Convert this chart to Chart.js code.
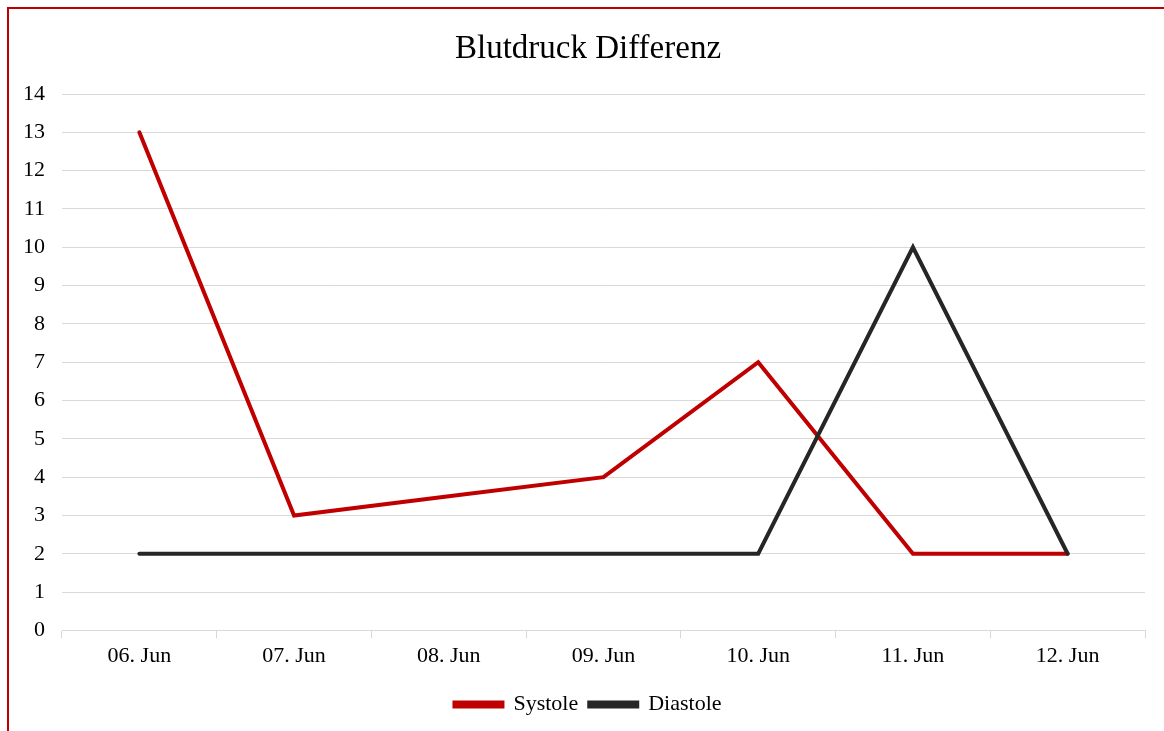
<!DOCTYPE html>
<html>
<head>
<meta charset="utf-8">
<script src="https://cdn.jsdelivr.net/npm/chart.js@4/dist/chart.umd.min.js"></script>
<style>
  html, body { margin: 0; padding: 0; background: #fff; overflow: hidden; }
  #wrap { position: relative; width: 1164px; height: 731px; }
  #frame { position: absolute; left: 7px; top: 7px; width: 2000px; height: 2000px;
           border-left: 2px solid #c00000; border-top: 2px solid #c00000; pointer-events: none; }
</style>
</head>
<body>
<div id="wrap">
  <canvas id="c" width="1164" height="731"></canvas>
  <div id="frame"></div>
</div>
<script>
const categories = ['06. Jun', '07. Jun', '08. Jun', '09. Jun', '10. Jun', '11. Jun', '12. Jun'];
const systole = [13, 3, 3.5, 4, 7, 2, 2];
const diastole = [2, 2, 2, 2, 2, 10, 2];
const seriesNames = ['Systole', 'Diastole'];
const titleText = 'Blutdruck Differenz';
const yMin = 0, yMax = 14, yStep = 1;

const FONT = "'Liberation Serif', 'Times New Roman', serif";
const PAD_LEFT = 12;

new Chart(document.getElementById('c'), {
  type: 'line',
  data: {
    labels: categories,
    datasets: [
      { label: seriesNames[0], data: systole, borderColor: '#c00000', backgroundColor: '#c00000',
        borderWidth: 4, pointRadius: 0, tension: 0, order: 1, borderCapStyle: 'round', borderJoinStyle: 'miter' },
      { label: seriesNames[1], data: diastole, borderColor: '#262626', backgroundColor: '#262626',
        borderWidth: 4, pointRadius: 0, tension: 0, order: 0, borderCapStyle: 'round', borderJoinStyle: 'miter' }
    ]
  },
  options: {
    responsive: false,
    animation: false,
    events: [],
    layout: { padding: { left: PAD_LEFT, right: 0, top: 0, bottom: 5.6 } },
    plugins: {
      title: {
        display: true, text: titleText, color: '#000',
        font: { family: FONT, size: 33, weight: 'normal', lineHeight: 1.2 },
        padding: { top: 30, bottom: 24.4 }
      },
      legend: {
        position: 'bottom',
        labels: {
          color: '#000', font: { family: FONT, size: 22 },
          boxWidth: 48, boxHeight: 4, padding: 11,
          sort: (a, b) => a.datasetIndex - b.datasetIndex
        }
      },
      tooltip: { enabled: false }
    },
    scales: {
      x: {
        offset: true,
        grid: { display: true, drawOnChartArea: false, drawTicks: true, tickLength: 8, offset: true, color: '#d9d9d9', lineWidth: 1 },
        border: { display: true, color: '#d9d9d9', width: 1 },
        ticks: { color: '#000', font: { family: FONT, size: 22 }, padding: 5, maxRotation: 0, autoSkip: false },
        afterFit: (s) => { s.height = 52; }
      },
      y: {
        min: yMin, max: yMax,
        grid: { color: '#d9d9d9', lineWidth: 1, drawTicks: false },
        border: { display: false },
        ticks: { stepSize: yStep, color: '#000', font: { family: FONT, size: 22 }, padding: 17 },
        afterFit: (s) => { s.width = 62 - PAD_LEFT; }
      },
      yRight: {
        position: 'right',
        display: true,
        min: yMin, max: yMax,
        grid: { display: false, drawTicks: false },
        border: { display: false },
        ticks: { display: false },
        afterFit: (s) => { s.width = 19; }
      }
    }
  }
});
</script>
</body>
</html>
